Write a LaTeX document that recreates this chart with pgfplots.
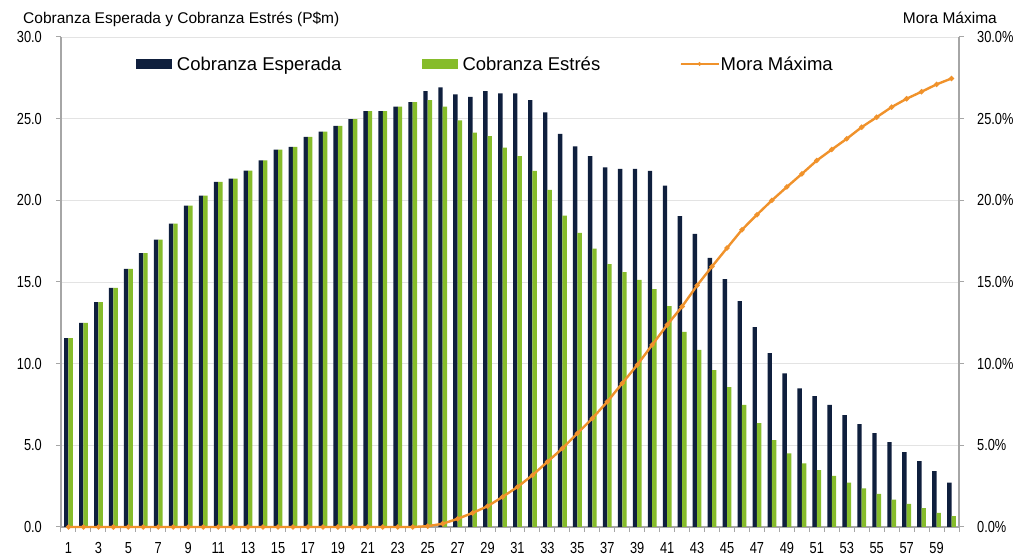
\documentclass[border=0pt]{standalone}
\usepackage{pgfplots}
\pgfplotsset{compat=1.18}
\usepackage{pgfplotstable}
\usepackage{fontspec}
\setmainfont{Liberation Sans}
\newfontfamily\tickfont{Liberation Sans}[FakeStretch=0.8]
\definecolor{esp}{HTML}{0F1F3D}
\definecolor{est}{HTML}{86BC2B}
\definecolor{mora}{HTML}{F0922B}
\definecolor{axgray}{HTML}{A6A6A6}
\definecolor{gridc}{HTML}{E3E3E3}

\pgfplotstableread{
x E S M
1 11.56 11.56 0
2 12.50 12.50 0
3 13.77 13.77 0
4 14.64 14.64 0
5 15.81 15.81 0
6 16.77 16.77 0
7 17.59 17.59 0
8 18.57 18.57 0
9 19.67 19.67 0
10 20.29 20.29 0
11 21.13 21.13 0
12 21.33 21.33 0
13 21.82 21.82 0
14 22.44 22.44 0
15 23.11 23.11 0
16 23.27 23.27 0
17 23.89 23.89 0
18 24.21 24.21 0
19 24.56 24.56 0
20 24.97 24.97 0
21 25.46 25.46 0
22 25.46 25.46 0
23 25.73 25.73 0
24 26.01 26.01 0
25 26.69 26.14 0.05
26 26.91 25.73 0.20
27 26.48 24.89 0.50
28 26.34 24.15 0.86
29 26.69 23.93 1.27
30 26.55 23.23 1.84
31 26.55 22.70 2.45
32 26.14 21.80 3.17
33 25.38 20.64 3.99
34 24.07 19.06 4.81
35 23.31 18.00 5.73
36 22.70 17.04 6.65
37 22.01 16.10 7.67
38 21.93 15.61 8.80
39 21.93 15.13 9.92
40 21.80 14.56 11.15
41 20.90 13.52 12.37
42 19.04 11.94 13.50
43 17.94 10.84 14.79
44 16.48 9.61 15.95
45 15.18 8.57 17.08
46 13.83 7.47 18.20
47 12.23 6.36 19.12
48 10.64 5.32 20.00
49 9.41 4.50 20.82
50 8.49 3.89 21.62
51 8.02 3.48 22.44
52 7.47 3.13 23.11
53 6.85 2.72 23.77
54 6.30 2.37 24.48
55 5.75 2.03 25.09
56 5.20 1.68 25.71
57 4.58 1.41 26.22
58 4.03 1.15 26.65
59 3.42 0.86 27.10
60 2.72 0.66 27.46
}\datatable

\begin{document}
\begin{tikzpicture}
\useasboundingbox (0,0) rectangle (1031pt,556pt);
\node[anchor=base west, inner sep=0pt, font=\fontsize{15.5}{18}\selectfont] at (23pt,532.7pt) {Cobranza Esperada y Cobranza Estrés (P\$m)};
\node[anchor=base east, inner sep=0pt, font=\fontsize{15.5}{18}\selectfont] at (997pt,532.7pt) {Mora Máxima};
\begin{axis}[
  at={(61pt,29pt)}, anchor=south west, scale only axis,
  width=898pt, height=490pt,
  xmin=0.5, xmax=60.5, ymin=0, ymax=30,
  ybar=0pt, bar width=4.4pt,
  axis x line*=bottom, axis y line*=left,
  axis line style={axgray, line width=1.2pt},
  tick align=outside,
  xtick={1,3,...,59},
  minor xtick={0.5,1.5,...,60.5},
  major x tick style={draw=none},
  minor x tick style={axgray, line width=1pt},
  minor tick length=5pt,
  ytick={0,5,...,30},
  major tick length=5pt,
  y tick style={axgray, line width=1pt},
  ymajorgrids, grid style={gridc, line width=0.8pt},
  tick label style={font=\tickfont\fontsize{16}{16}\selectfont, inner sep=0pt},
  yticklabel style={xshift=-14pt, /pgf/number format/.cd, fixed, fixed zerofill, precision=1, assume math mode=true},
  xticklabel style={yshift=-10pt, /pgf/number format/assume math mode=true},
  legend columns=3,
  legend style={at={(0.0835,0.9598)}, anchor=north west, draw=none, fill=none,
    inner sep=0pt, outer sep=0pt, font=\fontsize{18.5}{18.5}\selectfont,
    cells={anchor=base west}, nodes={inner sep=0pt},
    /tikz/every odd column/.append style={column sep=5pt},
    /tikz/every even column/.append style={column sep=80pt}},
]
\addplot[fill=esp, draw=none, legend image code/.code={\fill[esp] (0pt,1.4pt) rectangle (36pt,11.4pt);}] table[x=x,y=E]{\datatable};
\addlegendentry{Cobranza Esperada}
\addplot[fill=est, draw=none, legend image code/.code={\fill[est] (0pt,1.4pt) rectangle (36pt,11.4pt);}] table[x=x,y=S]{\datatable};
\addlegendentry{Cobranza Estrés}
\addlegendimage{legend image code/.code={\path (0pt,6.4pt) -- (35pt,6.4pt); \draw[mora, line width=2.6pt, overlay] (0pt,6.4pt) -- (38pt,6.4pt); \fill[mora, overlay] (19pt,6.4pt) circle (1.8pt);}}
\addlegendentry{Mora Máxima}
\end{axis}
\begin{axis}[
  at={(61pt,29pt)}, anchor=south west, scale only axis,
  width=898pt, height=490pt,
  xmin=0.5, xmax=60.5, ymin=0, ymax=30,
  axis x line=none, axis y line*=right,
  axis line style={axgray, line width=1.2pt},
  tick align=outside,
  ytick={0,5,...,30},
  major tick length=5pt,
  y tick style={axgray, line width=1pt},
  tick label style={font=\tickfont\fontsize{16}{16}\selectfont, inner sep=0pt},
  yticklabel style={xshift=13pt},
  yticklabel={\pgfmathprintnumber[fixed,fixed zerofill,precision=1,assume math mode=true]{\tick}\%},
  clip=false,
]
\addplot[mora, line width=2.4pt, mark=*, mark size=1.2pt] table[x=x,y=M]{\datatable};
\end{axis}
\end{tikzpicture}
\end{document}
